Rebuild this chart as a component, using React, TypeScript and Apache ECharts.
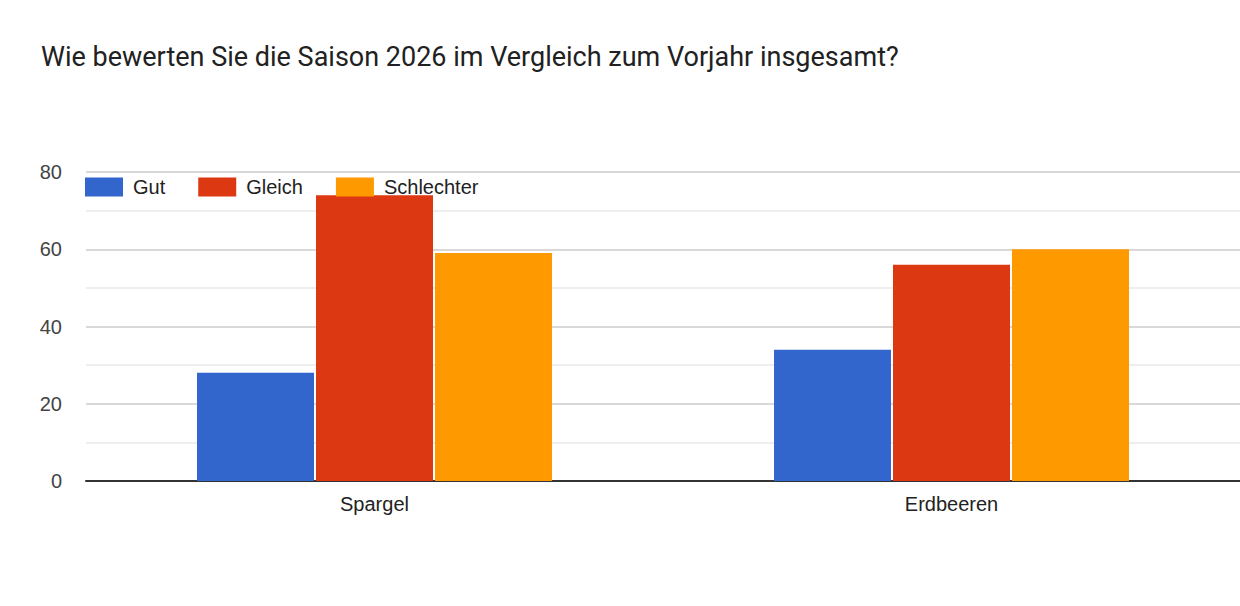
import React, { useEffect, useRef } from "react";
import * as echarts from "echarts";

const categories = ["Spargel", "Erdbeeren"];
const seriesNames = ["Gut", "Gleich", "Schlechter"];
const gut = [28, 34];
const gleich = [74, 56];
const schlechter = [59, 60];
const colors = ["#3366cc", "#dc3912", "#ff9900"];

const App: React.FC = () => {
  const chartRef = useRef<HTMLDivElement>(null);

  useEffect(() => {
    if (!chartRef.current) return;
    const chart = echarts.init(chartRef.current, undefined, { renderer: "svg" });
    const values = [gut, gleich, schlechter];

    chart.setOption({
      animation: false,
      backgroundColor: "#ffffff",
      title: {
        text: "Wie bewerten Sie die Saison 2026 im Vergleich zum Vorjahr insgesamt?",
        left: 41,
        top: 43,
        padding: 0,
        textStyle: {
          fontFamily: "Roboto",
          fontSize: 27,
          fontWeight: "normal",
          color: "#212121",
        },
      },
      legend: {
        left: 85,
        top: 177,
        padding: 0,
        itemWidth: 38,
        itemHeight: 19,
        itemGap: 33,
        icon: "rect",
        data: seriesNames,
        textStyle: {
          fontFamily: "Arial, 'Liberation Sans'",
          fontSize: 20,
          color: "#222222",
          padding: [0, 0, 0, 5],
        },
      },
      grid: {
        left: 86,
        right: 0,
        top: 172,
        bottom: 125,
        containLabel: false,
      },
      xAxis: {
        type: "category",
        data: categories,
        axisTick: { show: false },
        axisLine: { lineStyle: { color: "#333333", width: 2 } },
        axisLabel: {
          fontFamily: "Arial, 'Liberation Sans'",
          fontSize: 20,
          color: "#222222",
          margin: 13,
        },
      },
      yAxis: {
        type: "value",
        min: 0,
        max: 80,
        interval: 20,
        axisLine: { show: false },
        axisTick: { show: false },
        axisLabel: {
          fontFamily: "Arial, 'Liberation Sans'",
          fontSize: 20,
          color: "#444444",
          margin: 24,
        },
        splitLine: { lineStyle: { color: "#cccccc", width: 1.5 } },
        minorTick: { show: false, splitNumber: 2 },
        minorSplitLine: { show: true, lineStyle: { color: "#e8e8e8", width: 1.5 } },
      },
      series: seriesNames.map((name, i) => ({
        name,
        type: "bar",
        data: values[i],
        barWidth: 117,
        barGap: "1.7%",
        itemStyle: { color: colors[i] },
      })),
    });

    return () => {
      chart.dispose();
    };
  }, []);

  return (
    <div
      ref={chartRef}
      style={{ position: "absolute", left: 0, top: 0, width: 1240, height: 606 }}
    />
  );
};

export default App;
